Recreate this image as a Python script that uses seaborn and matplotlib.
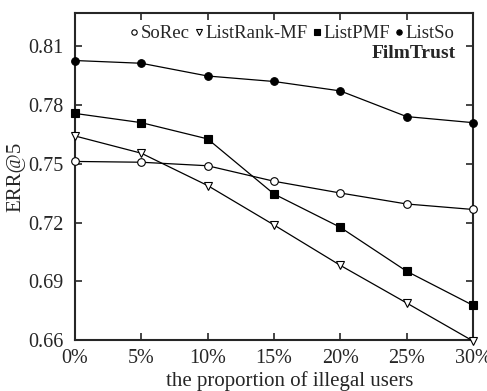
import pandas as pd
import matplotlib
matplotlib.use("Agg")
import matplotlib.pyplot as plt
import seaborn as sns

sns.set_style("ticks")
plt.rcParams['font.family'] = ['Liberation Serif', 'DejaVu Serif']

# illegal user proportion (%)
proportion = [0, 5, 10, 15, 20, 25, 30]
tick_labels = ["0%", "5%", "10%", "15%", "20%", "25%", "30%"]

sorec = [0.7512, 0.7508, 0.7490, 0.7411, 0.7351, 0.7295, 0.7267]
listrank_mf = [0.7642, 0.7554, 0.7389, 0.7188, 0.6982, 0.6790, 0.6596]
listpmf = [0.7757, 0.7710, 0.7627, 0.7346, 0.7176, 0.6952, 0.6778]
listso = [0.8027, 0.8013, 0.7948, 0.7920, 0.7872, 0.7741, 0.7710]

series = [
    ("SoRec", sorec, "o", "white", 5.5),
    ("ListRank-MF", listrank_mf, "v", "white", 6),
    ("ListPMF", listpmf, "s", "black", 5.5),
    ("ListSo", listso, "o", "black", 5.5),
]

fig = plt.figure(figsize=(4.87, 3.91), dpi=100)
ax = fig.add_axes([0.154, 0.130, 0.817, 0.837])

for name, vals, mk, fc, ms in series:
    df = pd.DataFrame({"x": proportion, "y": vals})
    sns.lineplot(data=df, x="x", y="y", ax=ax, color="black", linewidth=0.9,
                 marker=mk, markersize=ms, markerfacecolor=fc,
                 markeredgecolor="black", markeredgewidth=0.8, label=name,
                 clip_on=False, zorder=3)

ax.set_xlim(0, 30)
ax.set_ylim(0.66, 0.827)
ax.set_xticks(proportion)
ax.set_xticklabels(tick_labels)
ax.set_yticks([0.66, 0.69, 0.72, 0.75, 0.78, 0.81])
ax.set_yticklabels(["0.66", "0.69", "0.72", "0.75", "0.78", "0.81"])
ax.tick_params(direction="in", length=5, width=1.2, labelsize=14.5,
               top=True, right=True)
ax.tick_params(axis="y", pad=8)
ax.tick_params(axis="x", pad=6)
for sp in ax.spines.values():
    sp.set_linewidth(1.5)
    sp.set_visible(True)

ax.set_xlabel("the proportion of illegal users", fontsize=15)
ax.xaxis.set_label_coords(0.54, -0.095)
ax.set_ylabel("ERR@5", fontsize=15)
ax.yaxis.set_label_coords(-0.125, 0.5)

leg = ax.legend(loc="upper right", bbox_to_anchor=(0.985, 1.0), ncol=4,
                frameon=False, fontsize=13.5, handlelength=0.5,
                handletextpad=0.1, columnspacing=0.25, borderaxespad=0.25,
                markerscale=0.7)
for h in leg.get_lines():
    h.set_linestyle("none")

ax.text(0.958, 0.875, "FilmTrust", transform=ax.transAxes, ha="right",
        va="center", fontsize=14, fontweight="bold")

fig.savefig("out.png", dpi=100)
